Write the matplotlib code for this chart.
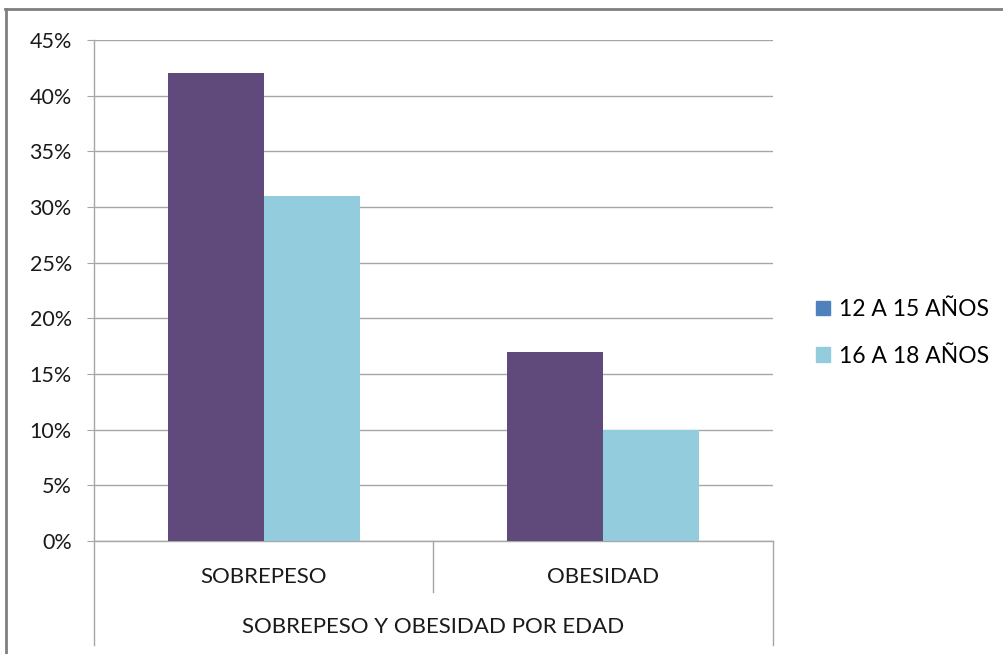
import matplotlib

matplotlib.use("Agg")
import matplotlib.pyplot as plt
from matplotlib.patches import Patch
from matplotlib.lines import Line2D
from matplotlib.ticker import FuncFormatter
import numpy as np

plt.rcParams["font.family"] = ["Lato", "DejaVu Sans"]

categories = ["SOBREPESO", "OBESIDAD"]
series_names = ["12 A 15 AÑOS", "16 A 18 AÑOS"]
edad_12_15 = [42, 17]
edad_16_18 = [31, 10]
group_label = "SOBREPESO Y OBESIDAD POR EDAD"

purple = "#604A7B"
light_blue = "#93CDDD"
legend_blue = "#4F81BD"
grid_gray = "#A6A6A6"
text_color = "#1A1A1A"

W, H = 1004, 654
fig = plt.figure(figsize=(W / 100, H / 100), dpi=100)
ax = fig.add_axes([94 / W, 1 - 541 / H, (773 - 94) / W, (541 - 40) / H])

x = np.arange(len(categories))
bw = 0.283
ax.bar(x - bw / 2, edad_12_15, bw, color=purple, zorder=3)
ax.bar(x + bw / 2, edad_16_18, bw, color=light_blue, zorder=3)

ax.set_xlim(-0.5, len(categories) - 0.5)
ax.set_ylim(0, 45)
ax.set_yticks(range(0, 46, 5))
ax.yaxis.set_major_formatter(FuncFormatter(lambda v, p: f"{v:.0f}%"))
ax.tick_params(axis="y", length=5, color=grid_gray, labelsize=15.5, pad=11, labelcolor=text_color)
ax.set_xticks([])
ax.grid(axis="y", color=grid_gray, linewidth=1, zorder=0)
for s in ["top", "right"]:
    ax.spines[s].set_visible(False)
for s in ["left", "bottom"]:
    ax.spines[s].set_color(grid_gray)
    ax.spines[s].set_linewidth(1)

# two-level category axis
tr = ax.get_xaxis_transform()
for xv, depth in [(-0.5, -0.2076), (0.5, -0.102), (1.5, -0.2076)]:
    ax.plot([xv, xv], [0, depth], color=grid_gray, lw=1, transform=tr, clip_on=False)
for xv, name in zip(x, categories):
    ax.text(xv, -0.072, name, transform=tr, ha="center", va="center", fontsize=16, color=text_color)
ax.text(0.5, -0.1717, group_label, transform=tr, ha="center", va="center", fontsize=16, color=text_color)

handles = [Patch(color=legend_blue), Patch(color=light_blue)]
fig.legend(handles, series_names, loc="center left", bbox_to_anchor=(805 / W, 1 - 333 / H),
           frameon=False, fontsize=16.5, handlelength=0.57, handleheight=0.57,
           handletextpad=0.43, labelspacing=1.1, borderpad=0)

# outer frame
fig.add_artist(Line2D([5 / W, 1], [1 - 9 / H, 1 - 9 / H], color="#7F7F7F", lw=2))
fig.add_artist(Line2D([6 / W, 6 / W], [0, 1 - 9 / H], color="#7F7F7F", lw=2))

fig.savefig("out.png", dpi=100)
plt.close(fig)
